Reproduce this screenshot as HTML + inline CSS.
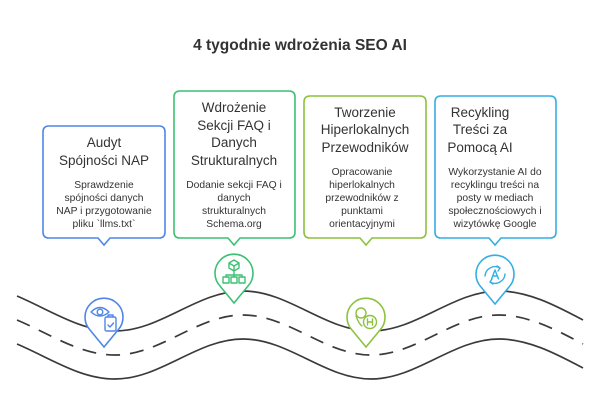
<!DOCTYPE html>
<html><head><meta charset="utf-8"><style>
html,body{margin:0;padding:0;background:#fff;}
svg{display:block;font-family:"Liberation Sans",sans-serif;}
.t{font-size:13.5px;fill:#333;text-anchor:middle;}
.b{font-size:10.3px;fill:#333;text-anchor:middle;}
</style></head><body>
<svg width="600" height="412" viewBox="0 0 600 412">
<text x="300" y="50" text-anchor="middle" font-size="15.5" font-weight="bold" fill="#333">4 tygodnie wdrożenia SEO AI</text>

<g fill="none" stroke="#3a3a3a" stroke-width="1.7">
<path d="M17,296 C50,310 80,331 115,331 C161,331 197,291 243,291 C289,291 325,331 371,331 C417,331 453,291 499,291 C530,291 560,308 583,320"/>
<path d="M17,296 C50,310 80,331 115,331 C161,331 197,291 243,291 C289,291 325,331 371,331 C417,331 453,291 499,291 C530,291 560,308 583,320" transform="translate(0,48)"/>
<path d="M17,296 C50,310 80,331 115,331 C161,331 197,291 243,291 C289,291 325,331 371,331 C417,331 453,291 499,291 C530,291 560,308 583,320" transform="translate(0,24)" stroke-dasharray="14 10"/>
</g>

<g fill="#fff" stroke-width="1.6">
<path d="M49,126 H159 Q165,126 165,132 V232 Q165,238 159,238 H110 L104,245 L98,238 H49 Q43,238 43,232 V132 Q43,126 49,126 Z" stroke="#4f86e8"/>
<path d="M180,91 H289 Q295,91 295,97 V232 Q295,238 289,238 H240 L234,245 L228,238 H180 Q174,238 174,232 V97 Q174,91 180,91 Z" stroke="#3cc173"/>
<path d="M310,96 H420 Q426,96 426,102 V232 Q426,238 420,238 H372 L366,245 L360,238 H310 Q304,238 304,232 V102 Q304,96 310,96 Z" stroke="#8cc23f"/>
<path d="M441,96 H550 Q556,96 556,102 V232 Q556,238 550,238 H501 L495,245 L489,238 H441 Q435,238 435,232 V102 Q435,96 441,96 Z" stroke="#35aee3"/>
</g>

<text class="t" x="104" y="147">Audyt</text>
<text class="t" x="104" y="165">Spójności NAP</text>
<text class="b" x="104" y="188">Sprawdzenie</text>
<text class="b" x="104" y="201">spójności danych</text>
<text class="b" x="104" y="214">NAP i przygotowanie</text>
<text class="b" x="104" y="227">pliku `llms.txt`</text>

<text class="t" x="234" y="112">Wdrożenie</text>
<text class="t" x="234" y="130">Sekcji FAQ i</text>
<text class="t" x="234" y="147">Danych</text>
<text class="t" x="234" y="165">Strukturalnych</text>
<text class="b" x="234" y="188">Dodanie sekcji FAQ i</text>
<text class="b" x="234" y="201">danych</text>
<text class="b" x="234" y="214">strukturalnych</text>
<text class="b" x="234" y="227">Schema.org</text>

<text class="t" x="365" y="117">Tworzenie</text>
<text class="t" x="365" y="134">Hiperlokalnych</text>
<text class="t" x="365" y="152">Przewodników</text>
<text class="b" x="362" y="175">Opracowanie</text>
<text class="b" x="362" y="188">hiperlokalnych</text>
<text class="b" x="362" y="201">przewodników z</text>
<text class="b" x="362" y="214">punktami</text>
<text class="b" x="362" y="227">orientacyjnymi</text>

<text class="t" x="480" y="117">Recykling</text>
<text class="t" x="480" y="134">Treści za</text>
<text class="t" x="480" y="152">Pomocą AI</text>
<text class="b" x="495" y="175">Wykorzystanie AI do</text>
<text class="b" x="495" y="188">recyklingu treści na</text>
<text class="b" x="495" y="201">posty w mediach</text>
<text class="b" x="495" y="214">społecznościowych i</text>
<text class="b" x="495" y="227">wizytówkę Google</text>

<g fill="#fff" stroke-width="1.6">
<path d="M104,347 L90,330 A19,19 0 1 1 118,330 Z" stroke="#4f86e8"/>
<path d="M234,303 L220,286 A19,19 0 1 1 248,286 Z" stroke="#3cc173"/>
<path d="M366,347 L352,330 A19,19 0 1 1 380,330 Z" stroke="#8cc23f"/>
<path d="M495,304 L481,287 A19,19 0 1 1 509,287 Z" stroke="#35aee3"/>
</g>
<g fill="none" stroke-width="1.4" stroke-linecap="round" stroke-linejoin="round">
<g stroke="#4f86e8">
<path d="M91,312 Q100,303 109,312 Q100,320 91,312 Z"/><circle cx="100" cy="312" r="2.8"/>
<rect x="105" y="317" width="11" height="14" rx="1.5" fill="#fff"/><path d="M108,317 v-2 h5 v2"/><path d="M108,325 l2,2 l3.5,-4"/>
</g>
<g stroke="#3cc173">
<path d="M234,260 l5,3 v5 l-5,3 l-5,-3 v-5 z M229,263 l5,3 l5,-3 M234,266 v5"/>
<path d="M234,272 v3 M226,275 h16 M226,275 v2 M234,275 v2 M242,275 v2"/>
<rect x="223" y="277" width="6" height="6"/><rect x="231" y="277" width="6" height="6"/><rect x="239" y="277" width="6" height="6"/>
</g>
<g stroke="#8cc23f">
<circle cx="361" cy="313" r="5"/><path d="M356,316 q3,8 6,10"/>
<circle cx="370" cy="322" r="6.5" fill="#fff"/><path d="M367.5,319 v6 M372.5,319 v6 M367.5,322 h5"/>
</g>
<g stroke="#35aee3">
<path d="M485,276 a10,10 0 0 1 15,-8 M505,274 a10,10 0 0 1 -15,8"/>
<path d="M497,266 l3,2 l-2,3 M493,284 l-3,-2 l2,-3"/>
<path d="M491.5,279 l3.5,-9 l3.5,9 M492.8,276 h4.4"/>
</g>
</g>
</svg>
</body></html>
